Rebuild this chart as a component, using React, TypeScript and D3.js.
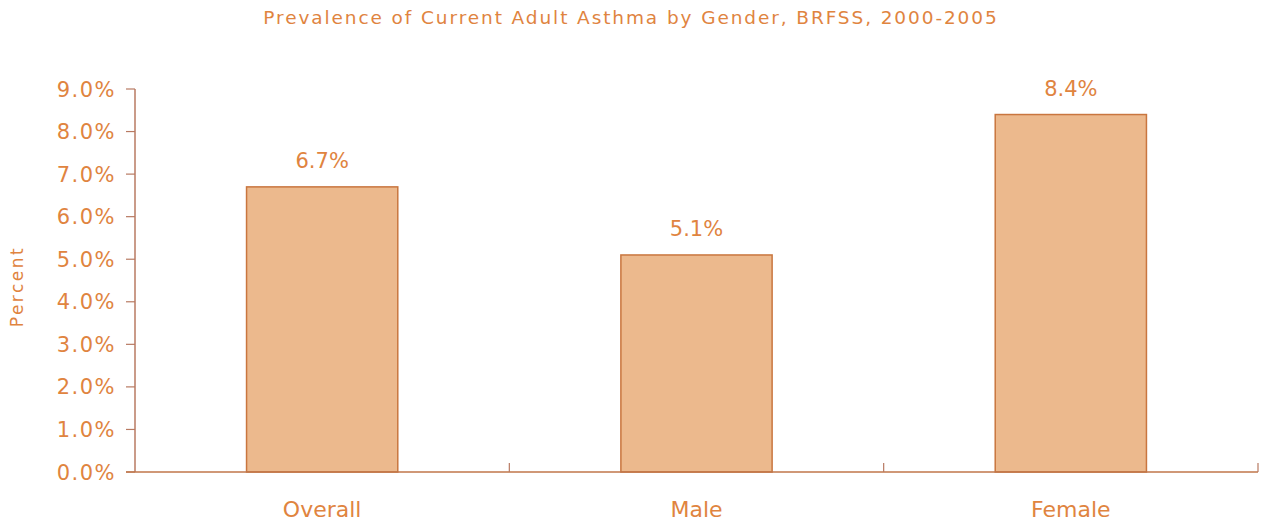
import React from "react";
import * as d3 from "d3";

const categories = ["Overall", "Male", "Female"];
const values = [6.7, 5.1, 8.4];
const valueLabels = ["6.7%", "5.1%", "8.4%"];
const yTicks = [0, 1, 2, 3, 4, 5, 6, 7, 8, 9];

const W = 1263;
const H = 525;
const left = 135;
const right = 1258;
const top = 89;
const bottom = 472;

const textColor = "#e0843f";
const axisColor = "#b87a62";
const font = "'DejaVu Sans', 'Noto Sans', sans-serif";

export default function App() {
  const x = d3
    .scaleBand<string>()
    .domain(categories)
    .range([left, right])
    .paddingInner(0.596)
    .paddingOuter(0.298);
  const y = d3.scaleLinear().domain([0, 9]).range([bottom, top]);
  const step = x.step();
  const boundaries = categories.map((_, i) => left + step * (i + 1));

  return (
    <svg
      width={W}
      height={H}
      style={{ position: "absolute", left: 0, top: 0, background: "#fff" }}
      fontFamily={font}
    >
      <text
        x={631}
        y={24}
        textAnchor="middle"
        fontSize={18.5}
        letterSpacing={1.9}
        fill={textColor}
      >
        Prevalence of Current Adult Asthma by Gender, BRFSS, 2000-2005
      </text>

      {/* y axis */}
      <line x1={left} x2={left} y1={top} y2={bottom} stroke={axisColor} strokeWidth={1.5} />
      {yTicks.map((t) => (
        <g key={t}>
          <line x1={left - 9} x2={left} y1={y(t)} y2={y(t)} stroke={axisColor} strokeWidth={1.2} />
          <text
            x={left - 19}
            y={y(t) + 7.5}
            textAnchor="end"
            fontSize={21}
            letterSpacing={1.5}
            fill={textColor}
          >
            {t.toFixed(1)}%
          </text>
        </g>
      ))}
      <text
        transform={`translate(23, ${(top + bottom) / 2 + 6}) rotate(-90)`}
        textAnchor="middle"
        fontSize={17}
        letterSpacing={2.5}
        fill={textColor}
      >
        Percent
      </text>

      {/* bars */}
      {categories.map((c, i) => (
        <g key={c}>
          <rect
            x={x(c)}
            y={y(values[i])}
            width={x.bandwidth()}
            height={bottom - y(values[i])}
            fill="#ecb98d"
            stroke="#c9763f"
            strokeWidth={1.5}
          />
          <text
            x={(x(c) as number) + x.bandwidth() / 2}
            y={y(values[i]) - 19}
            textAnchor="middle"
            fontSize={21}
            fill={textColor}
          >
            {valueLabels[i]}
          </text>
          <text
            x={(x(c) as number) + x.bandwidth() / 2}
            y={bottom + 45}
            textAnchor="middle"
            fontSize={22}
            fill={textColor}
          >
            {c}
          </text>
        </g>
      ))}

      {/* x axis */}
      <line x1={left - 9} x2={right} y1={bottom} y2={bottom} stroke="#c0764a" strokeWidth={1.5} />
      {boundaries.map((b, i) => (
        <line key={i} x1={b} x2={b} y1={bottom - 9} y2={bottom} stroke={axisColor} strokeWidth={1.2} />
      ))}
    </svg>
  );
}
